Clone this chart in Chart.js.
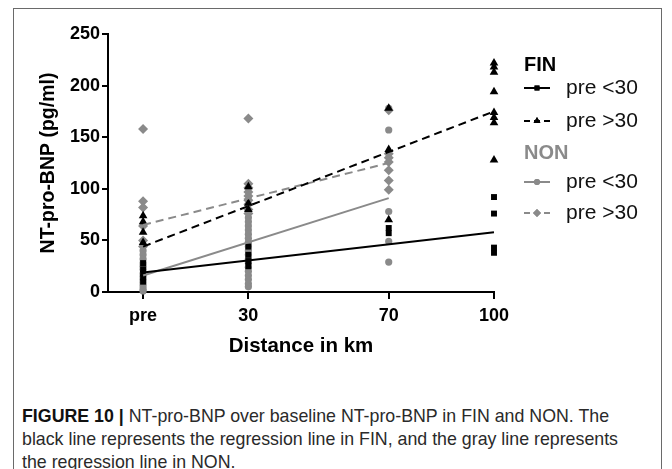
<!DOCTYPE html>
<html>
<head>
<meta charset="utf-8">
<script src="https://cdn.jsdelivr.net/npm/chart.js@4.4.1/dist/chart.umd.min.js"></script>
<style>
  body { margin: 0; background: #fff; width: 672px; height: 469px; overflow: hidden; position: relative; }
  #box { position: absolute; left: 13px; top: 8px; width: 647px; height: 480px; border: 1.5px solid #6a6a6a; }
  #wrap { position: absolute; left: 0; top: 0; width: 672px; height: 390px; }
  #caption { position: absolute; left: 22px; top: 405px; width: 640px; font-family: "Liberation Sans", Arial, sans-serif;
             font-size: 17.8px; line-height: 23px; color: #2a2a2a; white-space: nowrap; }
  #caption b { color: #111; }
</style>
</head>
<body>
<div id="box"></div>
<div id="wrap"><canvas id="grafico"></canvas></div>
<div id="caption"><b>FIGURE 10 |</b> NT-pro-BNP over baseline NT-pro-BNP in FIN and NON. The<br>black line represents the regression line in FIN, and the gray line represents<br>the regression line in NON.</div>
<script>
// distancias: pre = 0 km
const distances = [0, 30, 70, 100];
const xTickLabels = ['pre', '30', '70', '100'];

// valores por distancia (pre, 30, 70, 100)
const finLow = [[28, 22, 18, 14, 10], [44, 36, 30, 25], [62, 57], [92, 76, 43, 38]];
const finHigh = [[74, 68, 58, 48], [102, 86, 80], [178, 138, 70], [222, 218, 213, 194, 174, 169, 164, 128]];
const nonLow = [[40, 36, 32, 28, 25, 22, 18, 15, 12, 9, 6, 3, 1],
                [72, 68, 64, 60, 56, 52, 48, 44, 40, 36, 32, 28, 24, 20, 16, 12, 8, 5],
                [178, 157, 78, 49, 29], []];
const nonHigh = [[158, 88, 82, 64, 50, 44], [168, 105, 101, 97, 93, 89, 85, 80, 76], [176, 134, 130, 126, 118, 108, 99], []];

// rectas de regresion
const finFitX = [0, 100];
const finLowFit = [19, 58];
const finHighFit = [44, 175];
const nonFitX = [0, 70];
const nonLowFit = [16, 91];
const nonHighFit = [65, 125];

const black = '#000000';
const gray = '#8a8a8a';
const fuente = '"Liberation Sans", Arial, sans-serif';

function toPoints(series) {
    const pts = [];
    series.forEach((vals, i) => vals.forEach(v => pts.push({x: distances[i], y: v})));
    return pts;
}
function fitPoints(xs, ys) {
    return xs.map((x, i) => ({x: x, y: ys[i]}));
}

const lineBase = {type: 'line', pointRadius: 0, borderWidth: 2, fill: false, clip: false};
const datasets = [
    Object.assign({}, lineBase, {label: 'pre <30', group: 'FIN', data: fitPoints(finFitX, finLowFit), borderColor: black,
        markStyle: 'rect', markRadius: 3.5}),
    Object.assign({}, lineBase, {label: 'pre >30', group: 'FIN', data: fitPoints(finFitX, finHighFit), borderColor: black,
        borderDash: [8, 5], markStyle: 'triangle', markRadius: 4}),
    Object.assign({}, lineBase, {label: 'pre <30', group: 'NON', data: fitPoints(nonFitX, nonLowFit), borderColor: gray,
        markStyle: 'circle', markRadius: 3}),
    Object.assign({}, lineBase, {label: 'pre >30', group: 'NON', data: fitPoints(nonFitX, nonHighFit), borderColor: gray,
        borderDash: [8, 5], markStyle: 'rectRot', markRadius: 4}),
    {type: 'scatter', data: toPoints(finLow), pointStyle: 'rect', pointRadius: 4.2, backgroundColor: black, borderWidth: 0, clip: false},
    {type: 'scatter', data: toPoints(finHigh), pointStyle: 'triangle', pointRadius: 5, backgroundColor: black, borderWidth: 0, clip: false},
    {type: 'scatter', data: toPoints(nonLow), pointStyle: 'circle', pointRadius: 3.6, backgroundColor: gray, borderWidth: 0, clip: false},
    {type: 'scatter', data: toPoints(nonHigh), pointStyle: 'rectRot', pointRadius: 5, backgroundColor: gray, borderWidth: 0, clip: false}
];

// leyenda propia con cabeceras FIN / NON
const legendRows = [
    {header: 'FIN', color: black, y: 65},
    {ds: 0, y: 88},
    {ds: 1, y: 121},
    {header: 'NON', color: gray, y: 153},
    {ds: 2, y: 182},
    {ds: 3, y: 213}
];
const legendPlugin = {
    id: 'grupoLeyenda',
    afterDraw(chart) {
        const ctx = chart.ctx;
        ctx.save();
        legendRows.forEach(row => {
            if (row.header) {
                ctx.font = 'bold 20px ' + fuente;
                ctx.fillStyle = row.color;
                ctx.textBaseline = 'middle';
                ctx.fillText(row.header, 524, row.y);
                return;
            }
            const ds = chart.data.datasets[row.ds];
            ctx.strokeStyle = ds.borderColor;
            ctx.lineWidth = 2;
            ctx.setLineDash(ds.borderDash ? [6, 4] : []);
            ctx.beginPath();
            ctx.moveTo(524, row.y);
            ctx.lineTo(550, row.y);
            ctx.stroke();
            ctx.setLineDash([]);
            ctx.fillStyle = ds.borderColor;
            Chart.helpers.drawPoint(ctx, {pointStyle: ds.markStyle, radius: ds.markRadius, rotation: 0, borderWidth: 0}, 537, row.y);
            ctx.fill();
            ctx.font = '21px ' + fuente;
            ctx.fillStyle = '#111';
            ctx.textBaseline = 'middle';
            ctx.fillText(ds.label, 566, row.y);
        });
        ctx.restore();
    }
};

const ctx = document.getElementById('grafico').getContext('2d');
new Chart(ctx, {
    data: {datasets: datasets},
    plugins: [legendPlugin],
    options: {
        responsive: true,
        maintainAspectRatio: false,
        animation: false,
        layout: {padding: {left: 0, top: 34, right: 178, bottom: 0}},
        plugins: {legend: {display: false}, tooltip: {enabled: false}},
        scales: {
            x: {
                type: 'linear',
                min: -10,
                max: 100,
                afterBuildTicks: scale => { scale.ticks = distances.map(v => ({value: v})); },
                afterFit: scale => { scale.height = 98; },
                ticks: {
                    callback: (v) => xTickLabels[distances.indexOf(v)],
                    color: '#000',
                    font: {family: fuente, size: 18, weight: 'bold'},
                    padding: 6,
                    maxRotation: 0,
                    autoSkip: false
                },
                grid: {drawOnChartArea: false, drawTicks: true, tickLength: 7, color: '#000', lineWidth: 2},
                border: {color: '#000', width: 2},
                title: {
                    display: true,
                    text: 'Distance in km',
                    color: '#000',
                    font: {family: fuente, size: 20.5, weight: 'bold'},
                    padding: {top: 0, bottom: 31}
                }
            },
            y: {
                min: 0,
                max: 250,
                afterFit: scale => { scale.width = 108; },
                ticks: {
                    stepSize: 50,
                    color: '#000',
                    font: {family: fuente, size: 18, weight: 'bold'},
                    padding: 2
                },
                grid: {drawOnChartArea: false, drawTicks: true, tickLength: 6, color: '#000', lineWidth: 2},
                border: {color: '#000', width: 2},
                title: {
                    display: true,
                    text: 'NT-pro-BNP (pg/ml)',
                    color: '#000',
                    font: {family: fuente, size: 19.5, weight: 'bold'},
                    padding: {top: 37, bottom: 0}
                }
            }
        }
    }
});
</script>
</body>
</html>
